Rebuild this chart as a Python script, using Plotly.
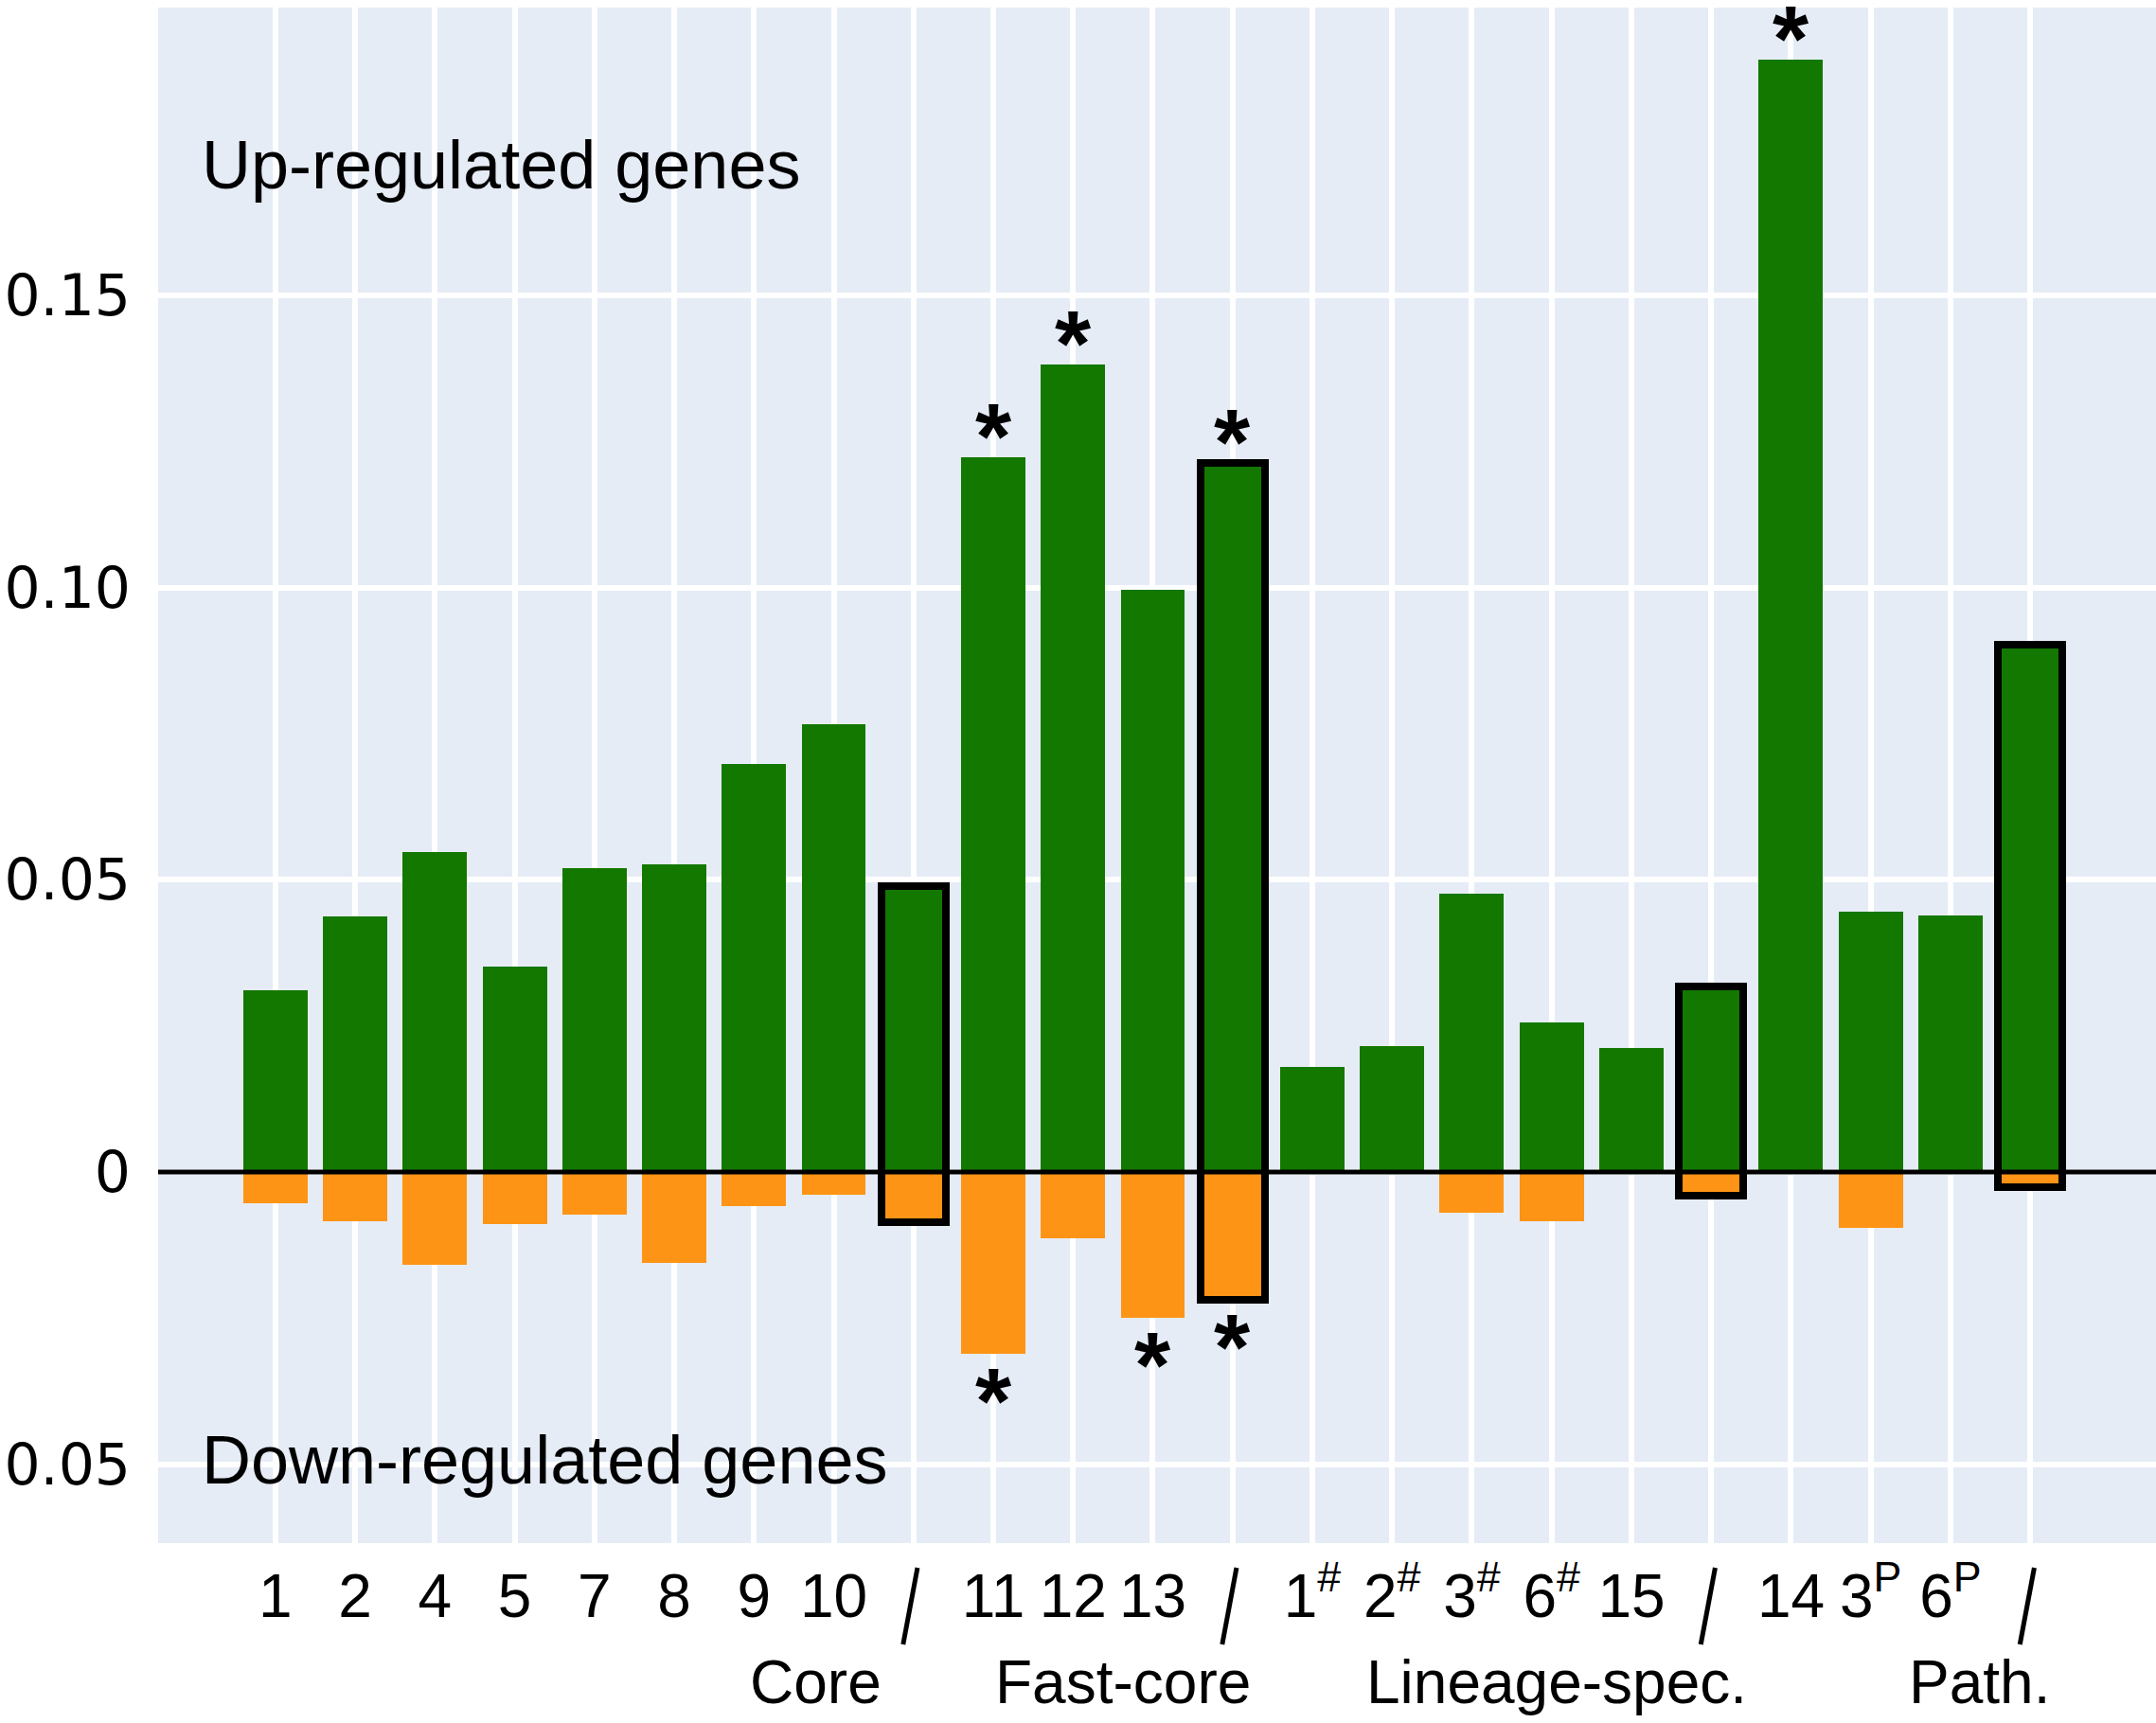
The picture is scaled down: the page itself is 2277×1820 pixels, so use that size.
import plotly.graph_objects as go

# ---- data ----
tick_labels = ["1", "2", "4", "5", "7", "8", "9", "10", "",
               "11", "12", "13", "",
               "1<sup>#</sup>", "2<sup>#</sup>", "3<sup>#</sup>", "6<sup>#</sup>", "15", "",
               "14", "3<sup>P</sup>", "6<sup>P</sup>", ""]
up_values = [0.0311, 0.0437, 0.0547, 0.0352, 0.0521, 0.0526, 0.0698, 0.0766, 0.0490,
             0.1224, 0.1382, 0.0997, 0.1214,
             0.0180, 0.0215, 0.0477, 0.0256, 0.0213, 0.0317,
             0.1904, 0.0446, 0.0439, 0.0902]
down_values = [-0.0053, -0.0084, -0.0159, -0.0089, -0.0072, -0.0156, -0.0058, -0.0039, -0.0085,
               -0.0311, -0.0114, -0.0249, -0.0218,
               0.0, 0.0, -0.0070, -0.0084, 0.0, -0.0040,
               0.0, -0.0096, 0.0, -0.0025]
boxed_idx = [8, 12, 18, 22]          # group summary bars (outlined)
sig_up_idx = [9, 10, 12, 19]         # asterisks above
sig_down_idx = [9, 11, 12]           # asterisks below
group_names = ["Core", "Fast-core", "Lineage-spec.", "Path."]
group_pos = [6.78, 10.63, 16.06, 21.36]
ytick_vals = [-0.05, 0, 0.05, 0.10, 0.15]
ytick_text = ["0.05", "0", "0.05", "0.10", "0.15"]

GREEN = "#137800"
ORANGE = "#FE9415"
FONT = "Liberation Sans, Arial, sans-serif"

xs = list(range(len(tick_labels)))
BW = 0.807

fig = go.Figure()
fig.add_trace(go.Bar(x=xs, y=up_values, width=BW, marker=dict(color=GREEN, line=dict(width=0)),
                     showlegend=False))
fig.add_trace(go.Bar(x=xs, y=down_values, width=BW, marker=dict(color=ORANGE, line=dict(width=0)),
                     showlegend=False))
fig.add_trace(go.Bar(x=boxed_idx,
                     y=[up_values[i] - down_values[i] for i in boxed_idx],
                     base=[down_values[i] for i in boxed_idx],
                     width=BW,
                     marker=dict(color="rgba(0,0,0,0)", line=dict(color="black", width=8)),
                     showlegend=False))

# zero line above bars
fig.add_shape(type="line", xref="paper", yref="y", x0=0, x1=1, y0=0, y1=0,
              line=dict(color="black", width=5), layer="above")

# slashes at group summary positions
for i in boxed_idx:
    fig.add_shape(type="line", xref="x", yref="paper",
                  x0=i + 0.05, y0=-0.016, x1=i - 0.13, y1=-0.066,
                  line=dict(color="black", width=5), layer="above")

# asterisks
for i in sig_up_idx:
    fig.add_annotation(x=i, y=up_values[i], xref="x", yref="y", text="<b>*</b>",
                       showarrow=False, yanchor="middle", yshift=22,
                       font=dict(family=FONT, size=98, color="black"))
for i in sig_down_idx:
    fig.add_annotation(x=i, y=down_values[i], xref="x", yref="y", text="<b>*</b>",
                       showarrow=False, yanchor="middle", yshift=-50,
                       font=dict(family=FONT, size=98, color="black"))

# group labels
for name, p in zip(group_names, group_pos):
    fig.add_annotation(x=p, y=-0.0906, xref="x", yref="paper", text=name, showarrow=False,
                       yanchor="middle", xanchor="center",
                       font=dict(family=FONT, size=64, color="black"))

fig.add_annotation(x=0.0209, y=0.1724, xref="paper", yref="y", text="Up-regulated genes",
                   showarrow=False, xanchor="left", yanchor="middle",
                   font=dict(family=FONT, size=72, color="black"))
fig.add_annotation(x=0.0209, y=-0.0492, xref="paper", yref="y", text="Down-regulated genes",
                   showarrow=False, xanchor="left", yanchor="middle",
                   font=dict(family=FONT, size=72, color="black"))

fig.update_layout(
    width=2277, height=1820,
    margin=dict(l=167, r=0, t=8, b=190),
    paper_bgcolor="white", plot_bgcolor="#E5ECF6",
    barmode="overlay", bargap=0,
    showlegend=False,
)
fig.update_xaxes(range=[-1.469, 23.576], tickmode="array", tickvals=xs, ticktext=tick_labels,
                 showgrid=True, gridcolor="white", gridwidth=6, zeroline=False, showline=False,
                 ticks="", ticklabelstandoff=13, automargin=False,
                 tickfont=dict(family=FONT, size=64, color="black"))
fig.update_yaxes(range=[-0.0635, 0.1993], tickmode="array", tickvals=ytick_vals, ticktext=ytick_text,
                 showgrid=True, gridcolor="white", gridwidth=6, zeroline=False, showline=False,
                 ticks="", ticklabelstandoff=28, automargin=False,
                 tickfont=dict(family="DejaVu Sans, sans-serif", size=60, color="black"))

# remove the default page margin so the figure sits at the window's top-left corner
fig.write_html("out.html", config={"displayModeBar": False},
               post_script="document.body.style.margin='0';")
